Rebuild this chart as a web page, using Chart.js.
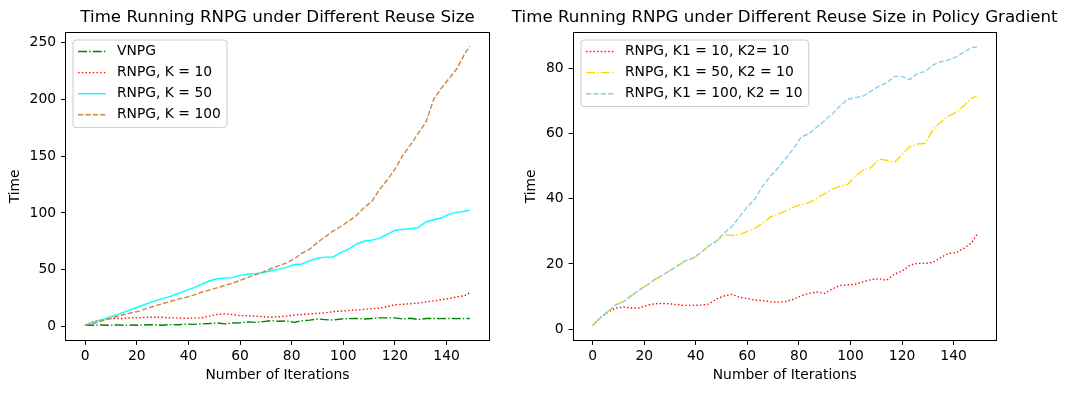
<!DOCTYPE html>
<html>
<head>
<meta charset="utf-8">
<script src="https://cdn.jsdelivr.net/npm/chart.js@4.4.1/dist/chart.umd.min.js"></script>
<style>
  html, body { margin: 0; padding: 0; background: #fff; }
  body { width: 1066px; height: 393px; position: relative; overflow: hidden; }
  .panel { position: absolute; top: 0; }
  #left { left: 0; }
  #right { left: 490px; }
</style>
</head>
<body>
<canvas class="panel" id="left" width="533" height="393"></canvas>
<canvas class="panel" id="right" width="576" height="393"></canvas>
<script>
/* iterations sampled every 3 steps (shared by both panels) */
const iters = [0,3,6,9,12,15,18,21,24,27,30,33,36,39,42,45,48,51,54,57,60,63,66,69,72,75,78,81,84,87,90,93,96,99,102,105,108,111,114,117,120,123,126,129,132,135,138,141,144,147,149];

/* left panel: Time Running RNPG under Different Reuse Size */
const vnpg    = [1,1,1.2,1,1.3,1,1.2,1,1.4,1.5,1,1.6,1.5,2,1.8,2.2,2.5,3,2.2,3,3.2,4,3.5,4.2,5,4.5,4.8,3.5,5,5.5,6.5,6,5.5,6.5,6.8,7,6.5,7,7.5,7.5,7.5,6.5,7.2,6,7,7,6.8,7,6.8,7,7];
const rnpgK10 = [1,4,5.5,6.5,7,7,7.5,7.5,8,8,8,7.5,7.5,7,7.5,7.5,9,10.5,11,10.5,9.5,9.5,9,8.5,8,8.5,9,10,10.5,11,11.5,12,13,13.5,14,14.5,15,15.5,16,17.5,19,19.5,20,20.5,21.5,22.5,23.5,24.5,26,27,29.5];
const rnpgK50 = [1,3.5,5.5,8,10,12.5,15,17.5,20,22.5,24.5,26.5,29,31.5,34,37,40,42,42.5,43,45,46,46.5,47.5,49,50.5,52,54.5,55,58,60,61,61,65,68,72.5,75,76,77.5,81,84.5,85.5,86,87,92,94,95.5,99,100.5,101.5,102.5];
const rnpgK100 = [1,2.5,4.5,6.5,8.5,10.5,12,13.5,16,18,20,22,24,25.5,27.5,30,32,34,36,38,40.5,43,45.5,48,51,53.5,56,59.5,64.5,68,74,79,84,88,92.5,97.5,104.5,110,120.5,129,138.5,150.5,160,170,180,200,210,218.5,227,240,247];

/* right panel: ... in Policy Gradient */
const k1_10  = [1.2,3.5,5.3,6.5,6.8,6.5,6.5,7.3,7.8,7.9,7.8,7.5,7.3,7.3,7.4,7.7,9.3,10.2,10.7,9.8,9.4,8.9,8.8,8.4,8.3,8.5,9.2,10.3,11,11.4,11,12.4,13.4,13.6,13.8,14.6,15.2,15.5,15,16.9,17.8,19.6,20.2,20.2,20.5,22,23.2,23.5,24.8,26.5,29];
const k1_50  = [1.2,3.5,5.5,7.5,8.5,10.3,12,13.5,15.2,16.5,18,19.5,21,21.8,23.5,25.5,27,29,28.7,29,30,31,32.5,34.5,35.3,36.3,37.5,38.2,38.8,40.2,41.5,43,43.8,44.5,47,48.8,49.5,52.2,51.8,51.2,53.5,56,56.8,57,61.3,63.5,65.3,66.5,68.5,70.8,71.5];
const k1_100 = [1.2,3.5,5.5,7.5,8.5,10.3,12,13.5,15.2,16.5,18,19.5,21,21.8,23.5,25.5,27,29.5,31.5,34.5,37.5,40,44,47,49.5,52.5,55.5,59,60,62,64,66,68.5,70.5,71,71.5,73,74.5,75.5,77.5,77.5,76.5,78.5,79,81,82,82.5,83.5,85,86.3,86.5];

const xTicks = [0,20,40,60,80,100,120,140];
const yTicksLeft = [0,50,100,150,200,250];
const yTicksRight = [0,20,40,60,80];

/* matplotlib line styles at lw = 1pt, 100 dpi (px) */
const LW = 1.39;
const DOTTED  = [1.39, 2.29];
const DASHED  = [5.14, 2.22];
const DASHDOT = [8.89, 2.22, 1.39, 2.22];
const FS = 13.89;

Chart.defaults.font.family = "'DejaVu Sans', sans-serif";
Chart.defaults.font.size = FS;
Chart.defaults.color = '#000';

const toXY = ys => ys.map((y, i) => ({ x: iters[i], y }));

function line(label, ys, color, dash, order) {
  return { label, data: toXY(ys), borderColor: color, borderDash: dash, borderWidth: LW,
           pointRadius: 0, tension: 0, fill: false, order };
}

/* frame, title and upper-left legend like matplotlib */
const panelDecor = {
  id: 'panelDecor',
  afterDatasetsDraw(chart, args, opts) {
    const { ctx, chartArea: a } = chart;
    ctx.save();
    ctx.strokeStyle = '#000'; ctx.lineWidth = 1;
    const l = Math.round(a.left), t = Math.round(a.top), r = Math.round(a.right), b = Math.round(a.bottom);
    ctx.strokeRect(l - 0.5, t - 0.5, r - l + 1, b - t + 1);

    ctx.fillStyle = '#000';
    ctx.font = "16.67px 'DejaVu Sans'";
    ctx.textAlign = 'center'; ctx.textBaseline = 'middle';
    ctx.fillText(opts.title, (a.left + a.right) / 2, 17.8);

    const sets = chart.data.datasets;
    ctx.font = FS + "px 'DejaVu Sans'";
    const textW = Math.max(...sets.map(d => ctx.measureText(d.label).width));
    const bx = l + 6.5, by = t + 6.5;
    const bw = 44.4 + textW + 5.6, bh = 24.3 + 21.1 * (sets.length - 1);
    ctx.beginPath();
    ctx.roundRect(bx + 0.5, by + 0.5, bw, bh, 3);
    ctx.fillStyle = 'rgba(255,255,255,0.8)'; ctx.fill();
    ctx.strokeStyle = '#cccccc'; ctx.stroke();
    ctx.textAlign = 'left';
    sets.forEach((d, k) => {
      const y = by + 12 + 21.1 * k;
      ctx.beginPath();
      ctx.setLineDash(d.borderDash || []);
      ctx.strokeStyle = d.borderColor; ctx.lineWidth = d.borderWidth;
      ctx.moveTo(bx + 5.6, y); ctx.lineTo(bx + 33.4, y); ctx.stroke();
      ctx.setLineDash([]);
      ctx.fillStyle = '#000';
      ctx.fillText(d.label, bx + 44.4, y);
    });
    ctx.restore();
  }
};

function makePanel(id, datasets, cfg) {
  const tickGrid = { drawOnChartArea: false, drawTicks: true, tickLength: 4.9, color: '#000', lineWidth: 1 };
  return new Chart(document.getElementById(id), {
    type: 'line',
    data: { datasets },
    plugins: [panelDecor],
    options: {
      responsive: false, animation: false, devicePixelRatio: 1,
      layout: { padding: { top: 32.7, right: cfg.padRight, left: 0, bottom: 0 } },
      plugins: { legend: { display: false }, tooltip: { enabled: false }, panelDecor: { title: cfg.title } },
      scales: {
        x: { type: 'linear', min: -7.45, max: 156.45,
             afterBuildTicks: s => { s.ticks = xTicks.map(v => ({ value: v })); },
             afterFit: s => { s.height = 53; },
             grid: tickGrid, border: { display: false },
             ticks: { color: '#000', padding: 3, maxRotation: 0 },
             title: { display: true, text: 'Number of Iterations', color: '#000', padding: { top: 0, bottom: 9.1 } } },
        y: { type: 'linear', min: cfg.yMin, max: cfg.yMax,
             afterBuildTicks: s => { s.ticks = cfg.yTicks.map(v => ({ value: v })); },
             afterFit: s => { s.width = cfg.yWidth; },
             grid: tickGrid, border: { display: false },
             ticks: { color: '#000', padding: 5 },
             title: { display: true, text: 'Time', color: '#000', padding: { top: cfg.yTitlePad, bottom: 0 } } },
      },
    },
  });
}

makePanel('left', [
  line('VNPG', vnpg, '#008000', DASHDOT, 4),
  line('RNPG, K = 10', rnpgK10, '#ff0000', DOTTED, 3),
  line('RNPG, K = 50', rnpgK50, '#00ffff', [], 2),
  line('RNPG, K = 100', rnpgK100, '#cd853f', DASHED, 1),
], { title: 'Time Running RNPG under Different Reuse Size', yMin: -12, yMax: 258.8,
     yTicks: yTicksLeft, yWidth: 66, yTitlePad: 6.7, padRight: 44 });

makePanel('right', [
  line('RNPG, K1 = 10, K2= 10', k1_10, '#ff0000', DOTTED, 3),
  line('RNPG, K1 = 50, K2 = 10', k1_50, '#ffd700', DASHDOT, 2),
  line('RNPG, K1 = 100, K2 = 10', k1_100, '#87ceeb', DASHED, 1),
], { title: 'Time Running RNPG under Different Reuse Size in Policy Gradient', yMin: -3.3, yMax: 90.9,
     yTicks: yTicksRight, yWidth: 83.5, yTitlePad: 33.2, padRight: 70 });
</script>
</body>
</html>
